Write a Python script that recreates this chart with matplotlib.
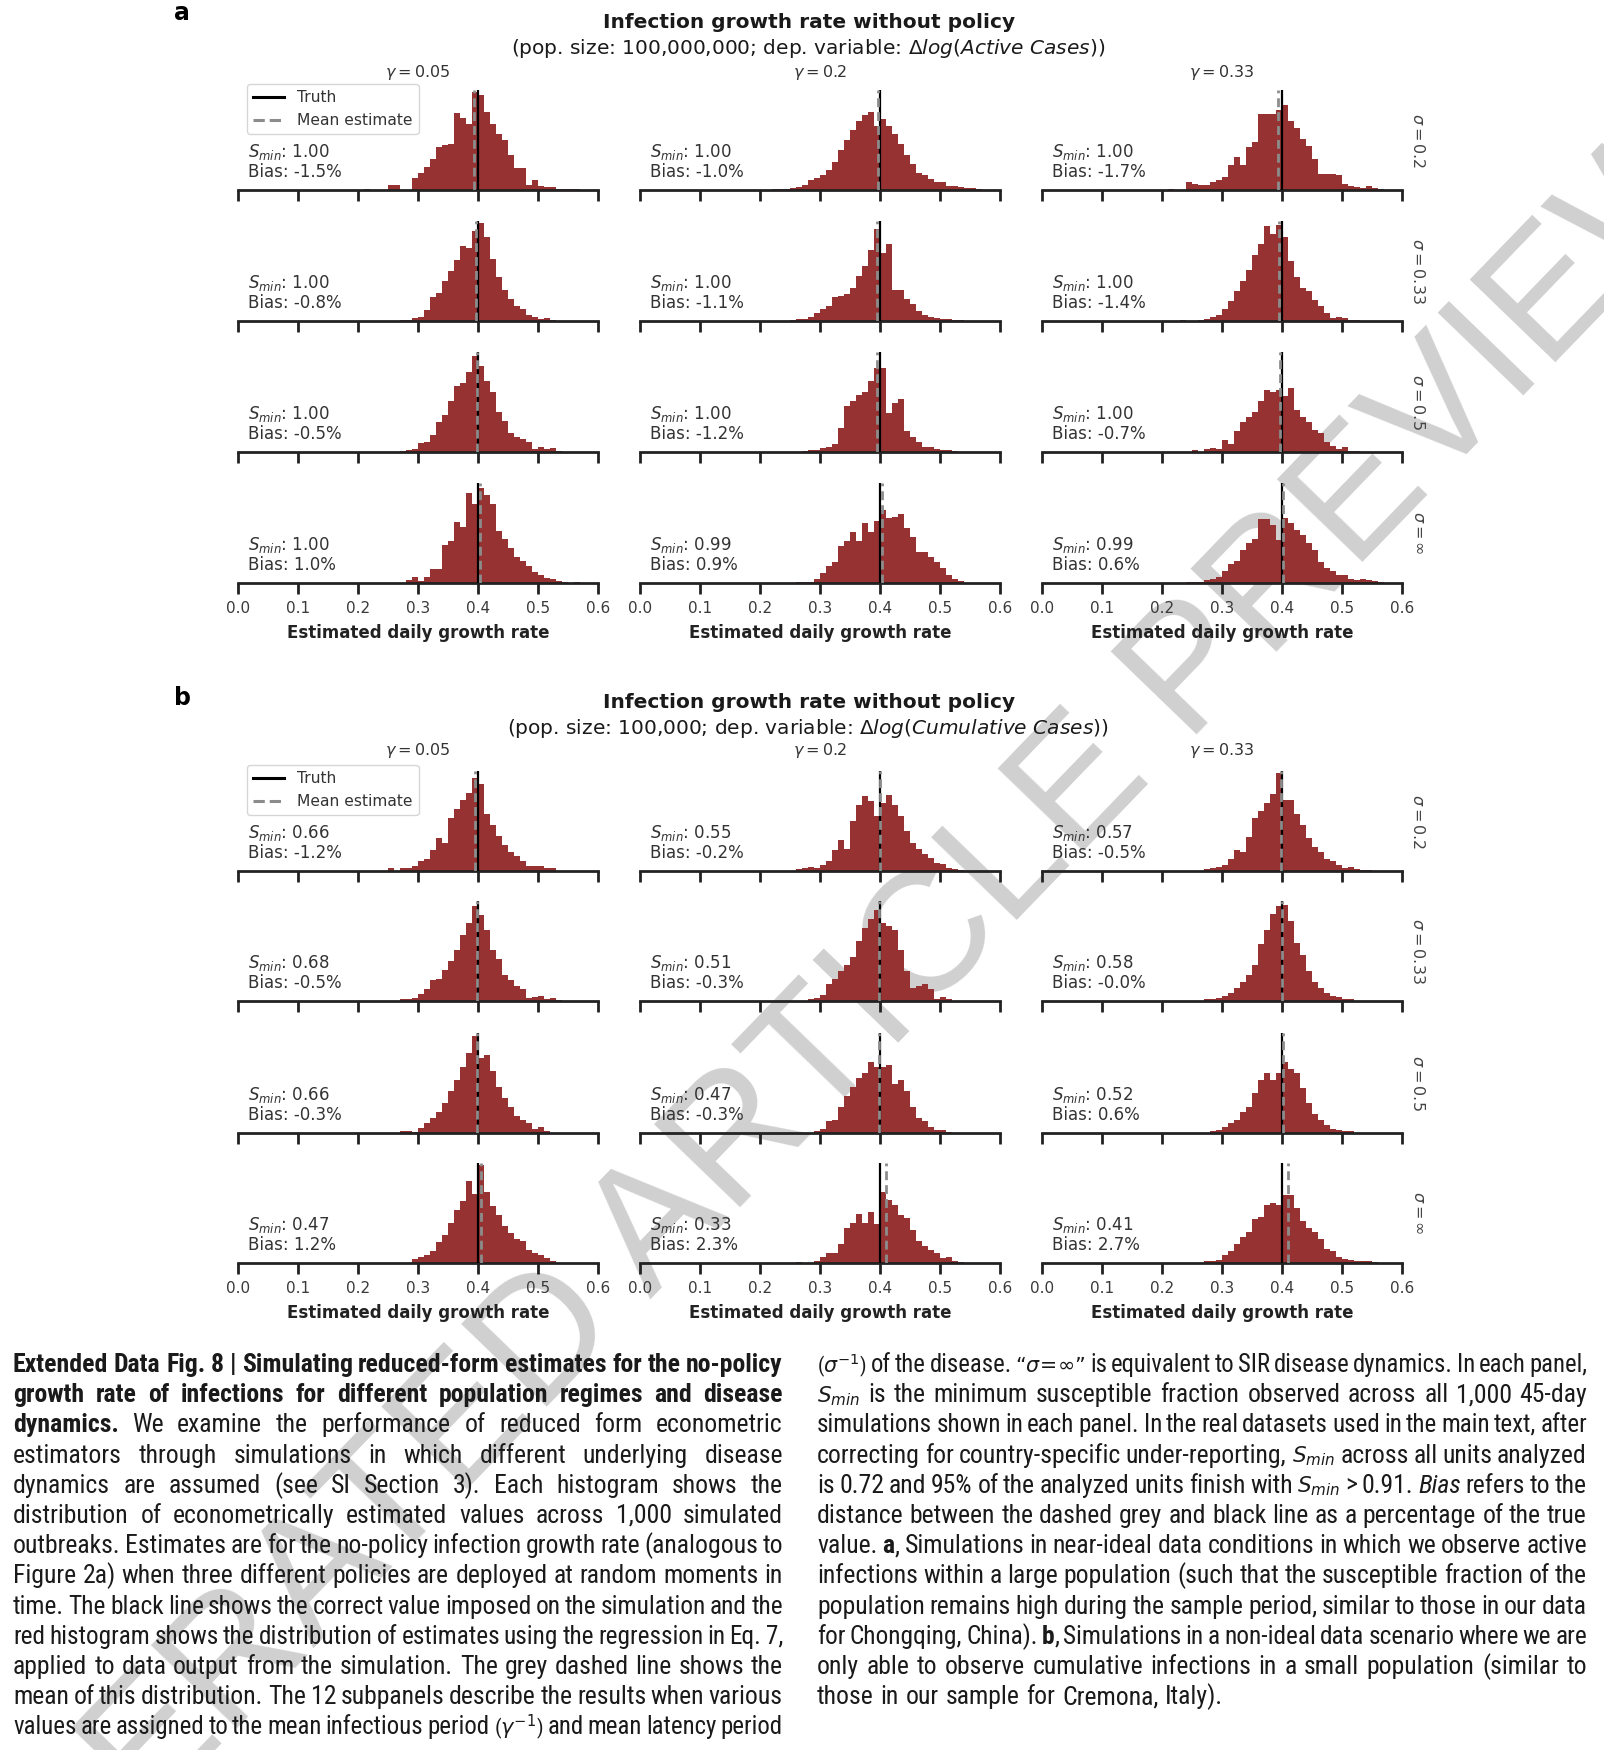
import re
import numpy as np
import matplotlib
matplotlib.use('Agg')
import matplotlib.pyplot as plt
from matplotlib.lines import Line2D

plt.rcParams['font.family'] = 'DejaVu Sans'
plt.rcParams['mathtext.fontset'] = 'dejavusans'

# ---- data -----------------------------------------------------------------
TRUTH = 0.4
BIN_EDGES = np.round(np.arange(0.20, 0.605, 0.01), 2)   # 40 bins of 0.01
XTICKS = [0.0, 0.1, 0.2, 0.3, 0.4, 0.5, 0.6]
GAMMAS = ['0.05', '0.2', '0.33']
SIGMAS = [r'0.2', r'0.33', r'0.5', r'\infty']

# bar heights (percent of panel height), first bin starts at 0.20
# part a: pop. 100,000,000, active cases
A11 = [0, 1, 0, 0, 0, 5, 5, 0, 0, 12, 17, 23, 31, 43, 45, 46, 77, 72, 66, 98, 95, 78, 66, 56, 50, 35, 22, 22, 5, 10, 4, 3, 3, 1.5, 1.5, 1, 1]
A12 = [0, 0, 1, 1, 1, 2, 3, 5, 10, 12, 15, 20, 28, 40, 50, 60, 69, 75, 78, 64, 71, 64, 56, 46, 35, 26, 17, 15, 11, 8, 8, 4, 4, 3, 2, 2, 1]
A13 = [0, 1, 0, 0, 8, 6, 5, 5, 8, 10, 13, 25, 33, 25, 43, 48, 76, 76, 76, 80, 85, 69, 62, 51, 44, 31, 16, 16, 16, 15, 6, 4, 3, 2, 4, 2, 1]
A21 = [0, 0, 0, 0, 0, 0, 0, 1, 1, 3, 4, 11, 24, 28, 40, 50, 61, 75, 73, 90, 98, 84, 62, 44, 31, 22, 15, 12, 6, 4, 2, 3, 1]
A22 = [0, 0, 0, 0, 0, 1, 2, 2, 4, 8, 12, 15, 24, 25, 27, 33, 45, 55, 71, 92, 68, 77, 31, 31, 22, 17, 10, 6, 4, 3, 2, 2, 1, 1]
A23 = [0, 0, 0, 1, 0, 0, 1, 2, 4, 6, 12, 20, 30, 40, 51, 66, 77, 95, 87, 96, 84, 60, 44, 33, 30, 21, 15, 8, 3, 4, 3, 1, 1]
A31 = [0, 0, 0, 0, 0, 0, 0, 1, 2, 3, 9, 10, 17, 30, 37, 51, 66, 69, 80, 96, 86, 71, 60, 40, 31, 19, 15, 13, 10, 3, 5, 3, 4, 1]
A32 = [0, 0, 0, 0, 0, 0, 0, 1, 2, 2, 4, 5, 8, 24, 46, 51, 57, 60, 71, 84, 84, 39, 49, 53, 21, 15, 10, 5, 5, 3, 2, 2, 1]
A33 = [0, 0, 0, 0, 0, 2, 0, 3, 4, 3, 12, 8, 21, 30, 35, 40, 51, 62, 60, 62, 56, 64, 42, 35, 30, 22, 19, 10, 6, 3, 5, 1, 1]
A41 = [0, 0, 0, 0, 0, 0, 0, 0, 3, 6, 2, 6, 14, 14, 38, 42, 61, 56, 90, 79, 95, 88, 79, 52, 44, 35, 26, 22, 17, 11, 8, 5, 4, 2, 1, 0, 1]
A42 = [0, 0, 0, 0, 0, 0, 1, 1, 1, 4, 10, 17, 21, 37, 42, 51, 42, 60, 51, 62, 73, 65, 66, 69, 55, 46, 31, 31, 26, 21, 15, 8, 4, 2]
A43 = [0, 0, 0, 0, 1, 1, 1, 3, 4, 6, 12, 19, 22, 33, 40, 44, 64, 64, 58, 43, 65, 60, 53, 48, 40, 33, 21, 15, 12, 8, 8, 4, 3, 4, 3, 2, 1]
# part b: pop. 100,000, cumulative cases
B11 = [0, 0, 0, 0, 0, 3, 0, 3, 3, 5, 10, 12, 21, 33, 28, 53, 62, 71, 78, 93, 87, 57, 46, 35, 26, 19, 15, 10, 5, 5, 5, 3, 3]
B12 = [0, 0, 0, 0, 0, 0, 2, 3, 4, 3, 6, 10, 21, 31, 22, 50, 66, 75, 70, 55, 68, 76, 66, 55, 40, 28, 22, 17, 13, 8, 7, 3, 2, 1]
B13 = [0, 0, 0, 0, 0, 0, 0, 2, 3, 4, 6, 12, 21, 19, 34, 53, 60, 68, 77, 98, 71, 71, 57, 46, 33, 24, 19, 12, 10, 6, 3, 4, 2, 1, 1]
B21 = [0, 0, 0, 0, 0, 0, 0, 2, 2, 3, 7, 12, 21, 22, 31, 40, 51, 66, 78, 95, 86, 71, 51, 42, 26, 21, 15, 12, 3, 4, 5, 2, 3, 1]
B22 = [0, 0, 0, 0, 0, 0, 0, 0, 2, 3, 6, 17, 22, 30, 36, 44, 60, 73, 82, 91, 78, 75, 71, 51, 30, 13, 15, 17, 12, 2, 4, 2]
B23 = [0, 0, 0, 0, 0, 0, 0, 2, 2, 3, 5, 8, 13, 19, 26, 36, 57, 71, 87, 95, 96, 80, 58, 46, 30, 19, 13, 8, 5, 4, 2, 2]
B31 = [0, 0, 0, 0, 0, 0, 0, 2, 2, 1, 5, 10, 15, 21, 30, 42, 53, 66, 80, 97, 75, 78, 62, 46, 35, 26, 17, 13, 10, 4, 6, 2]
B32 = [0, 0, 0, 0, 0, 0, 0, 0, 0, 2, 4, 12, 13, 26, 37, 46, 55, 60, 71, 66, 66, 68, 49, 53, 42, 26, 15, 12, 6, 3, 3, 1]
B33 = [0, 0, 0, 0, 0, 0, 0, 0, 2, 3, 6, 10, 13, 21, 26, 40, 53, 60, 53, 60, 71, 64, 60, 45, 30, 19, 13, 8, 4, 3, 2, 2]
B41 = [0, 0, 0, 0, 0, 0, 0, 0, 0, 4, 6, 8, 12, 21, 28, 40, 53, 62, 82, 69, 98, 71, 57, 48, 37, 30, 24, 22, 13, 10, 8, 5, 2]
B42 = [0, 0, 0, 0, 0, 0, 1, 0, 0, 2, 6, 10, 10, 19, 35, 40, 49, 40, 51, 39, 71, 63, 58, 48, 45, 33, 22, 17, 13, 10, 5, 6, 2, 1]
B43 = [0, 0, 0, 0, 0, 0, 0, 2, 2, 3, 8, 12, 19, 26, 31, 44, 46, 58, 60, 58, 68, 68, 55, 42, 35, 31, 24, 14, 12, 6, 4, 3, 2, 2, 2, 1]

SMIN_A = [[1.00, 1.00, 1.00], [1.00, 1.00, 1.00], [1.00, 1.00, 1.00], [1.00, 0.99, 0.99]]
BIAS_A = [[-1.5, -1.0, -1.7], [-0.8, -1.1, -1.4], [-0.5, -1.2, -0.7], [1.0, 0.9, 0.6]]
SMIN_B = [[0.66, 0.55, 0.57], [0.68, 0.51, 0.58], [0.66, 0.47, 0.52], [0.47, 0.33, 0.41]]
BIAS_B = [[-1.2, -0.2, -0.5], [-0.5, -0.3, -0.0], [-0.3, -0.3, 0.6], [1.2, 2.3, 2.7]]

HIST_A = [[A11, A12, A13], [A21, A22, A23], [A31, A32, A33], [A41, A42, A43]]
HIST_B = [[B11, B12, B13], [B21, B22, B23], [B31, B32, B33], [B41, B42, B43]]

LEFT_CAPTION = [
    "**Extended Data Fig. 8 | Simulating reduced-form estimates for the no-policy**",
    "**growth rate of infections for different population regimes and disease**",
    "**dynamics.** We examine the performance of reduced form econometric",
    "estimators through simulations in which different underlying disease",
    "dynamics are assumed (see SI Section 3). Each histogram shows the",
    "distribution of econometrically estimated values across 1,000 simulated",
    "outbreaks. Estimates are for the no-policy infection growth rate (analogous to",
    "Figure 2a) when three different policies are deployed at random moments in",
    "time. The black line shows the correct value imposed on the simulation and the",
    "red histogram shows the distribution of estimates using the regression in Eq. 7,",
    "applied to data output from the simulation. The grey dashed line shows the",
    "mean of this distribution. The 12 subpanels describe the results when various",
    r"values are assigned to the mean infectious period ($\gamma^{-1}$) and mean latency period",
]
RIGHT_CAPTION = [
    r"($\sigma^{-1}$) of the disease. “$\sigma\!=\!\infty$” is equivalent to SIR disease dynamics. In each panel,",
    r"$S_{min}$ is the minimum susceptible fraction observed across all 1,000 45-day",
    "simulations shown in each panel. In the real datasets used in the main text, after",
    r"correcting for country-specific under-reporting, $S_{min}$ across all units analyzed",
    r"is 0.72 and 95% of the analyzed units finish with $S_{min}$ > 0.91. __Bias__ refers to the",
    "distance between the dashed grey and black line as a percentage of the true",
    "value. **a**, Simulations in near-ideal data conditions in which we observe active",
    "infections within a large population (such that the susceptible fraction of the",
    "population remains high during the sample period, similar to those in our data",
    "for Chongqing, China). **b**, Simulations in a non-ideal data scenario where we are",
    "only able to observe cumulative infections in a small population (similar to",
    "those in our sample for Cremona, Italy).",
]

# ---- layout (pixels of the 1604 x 1750 canvas) -----------------------------
W, H = 1604, 1750
HIST_COLOR = '#973232'
COL_LEFT = [238, 640, 1042]
AX_W, AX_H = 360, 100

PARTS = [
    dict(letter='a', letter_y=13, title_y=22, sub_y=49, gamma_y=72,
         sub=r"(pop. size: 100,000,000; dep. variable: $\Delta log(Active\ Cases)$)",
         base=[190, 321, 452, 583], hist=HIST_A, smin=SMIN_A, bias=BIAS_A),
    dict(letter='b', letter_y=698, title_y=703, sub_y=729, gamma_y=751,
         sub=r"(pop. size: 100,000; dep. variable: $\Delta log(Cumulative\ Cases)$)",
         base=[871, 1001, 1133, 1263], hist=HIST_B, smin=SMIN_B, bias=BIAS_B),
]


def fx(x):
    return x / W


def fy(y):
    return 1 - y / H


fig = plt.figure(figsize=(W / 100, H / 100), dpi=100)

# watermark, behind everything
fig.text(fx(712), fy(1172), 'ACCELERATED ARTICLE PREVIEW', rotation=46,
         rotation_mode='anchor', ha='center', va='center', fontsize=124,
         color='#d0d0d0', family=['Liberation Sans', 'DejaVu Sans'], zorder=-5)

for part in PARTS:
    fig.text(fx(182), fy(part['letter_y']), part['letter'], fontsize=17,
             fontweight='bold', ha='center', va='center')
    fig.text(fx(809), fy(part['title_y']), 'Infection growth rate without policy',
             fontsize=14.5, fontweight='bold', ha='center', va='center', color='#1a1a1a')
    fig.text(fx(808), fy(part['sub_y']), part['sub'], fontsize=14.5,
             ha='center', va='center', color='#1a1a1a')
    for c in range(3):
        fig.text(fx(COL_LEFT[c] + AX_W / 2), fy(part['gamma_y']),
                 r'$\gamma = %s$' % GAMMAS[c], fontsize=11.5, ha='center',
                 va='center', color='#333333')

    for r in range(4):
        for c in range(3):
            base = part['base'][r]
            ax = fig.add_axes([fx(COL_LEFT[c]), fy(base), AX_W / W, AX_H / H])
            ax.patch.set_alpha(0)
            counts = part['hist'][r][c]
            counts = counts + [0] * (len(BIN_EDGES) - 1 - len(counts))
            ax.hist(BIN_EDGES[:-1] + 0.005, bins=BIN_EDGES, weights=counts,
                    color=HIST_COLOR)
            bias = part['bias'][r][c]
            ax.axvline(TRUTH, color='black', lw=1.6, zorder=3)
            ax.axvline(TRUTH * (1 + bias / 100), color='#8c8c8c', lw=2.0,
                       ls=(0, (3.2, 1.8)), zorder=4)
            ax.set_xlim(0, 0.6)
            ax.set_ylim(0, 100)
            ax.set_yticks([])
            ax.set_xticks(XTICKS)
            for s in ('left', 'right', 'top'):
                ax.spines[s].set_visible(False)
            ax.spines['bottom'].set_linewidth(2.0)
            ax.spines['bottom'].set_color('#222222')
            ax.tick_params(axis='x', length=8, width=2.0, color='#222222',
                           labelsize=11, labelcolor='#3a3a3a', pad=5,
                           labelbottom=(r == 3))
            if r == 3:
                ax.set_xlabel('Estimated daily growth rate', fontsize=12,
                              fontweight='bold', color='#222222', labelpad=6)
            ax.text(0.028, 0.09, r'$S_{min}$: %.2f' % part['smin'][r][c] + '\n'
                    + 'Bias: %.1f%%' % bias, transform=ax.transAxes,
                    fontsize=12, color='#333333', va='bottom', ha='left',
                    linespacing=1.1)
            if c == 2:
                ax.text(1.045, 0.5, r'$\sigma = %s$' % SIGMAS[r],
                        transform=ax.transAxes, rotation=270, fontsize=11.5,
                        color='#444444', ha='center', va='center')
            if r == 0 and c == 0:
                handles = [Line2D([], [], color='black', lw=2.2),
                           Line2D([], [], color='#8c8c8c', lw=2.2, ls='--')]
                leg = ax.legend(handles, ['Truth', 'Mean estimate'],
                                loc='upper left', bbox_to_anchor=(0.025, 1.06),
                                borderaxespad=0, fontsize=11.2, frameon=True,
                                fancybox=True, handlelength=2.0,
                                labelcolor='#333333')
                leg.get_frame().set_edgecolor('#cccccc')


# ---- caption: two justified columns with bold / italic runs -----------------
CAP_FONT = ['Roboto Condensed', 'Lato', 'DejaVu Sans']
CAP_BASE = 15.0
MATH_SHRINK = 0.84      # DejaVu mathtext runs wider than the caption face
COL_W = 770
LINE_Y0 = 1372          # baseline of first line
LINE_STEP = 30.2


def parse_runs(line):
    runs, bold, ital = [], False, False
    for tok in re.split(r'(\*\*|__)', line):
        if tok == '**':
            bold = not bold
        elif tok == '__':
            ital = not ital
        elif tok:
            runs.append((tok, bold, ital))
    return runs


def split_words(runs):
    words = [[]]
    for text, b, it in runs:
        for k, p in enumerate(text.split(' ')):
            if k:
                words.append([])
            if p:
                words[-1].append((p, b, it))
    return [w for w in words if w]


lines = []
for col_lines, x0 in ((LEFT_CAPTION, 13), (RIGHT_CAPTION, 817)):
    for i, line in enumerate(col_lines):
        y = LINE_Y0 + i * LINE_STEP
        words = []
        for w in split_words(parse_runs(line)):
            pieces = []
            for s, b, it in w:
                size = CAP_BASE * (MATH_SHRINK if '$' in s else 1.0)
                t = fig.text(0, fy(y), s, fontsize=size, family=CAP_FONT,
                             fontweight='bold' if b else 'normal',
                             fontstyle='italic' if it else 'normal',
                             color='#1a1a1a', va='baseline', ha='left')
                pieces.append((t, size))
            words.append(pieces)
        justify = not (col_lines is RIGHT_CAPTION and i == len(col_lines) - 1)
        lines.append((words, x0, justify))

renderer = fig.canvas.get_renderer()
em = CAP_BASE * 100 / 72
widths, fits = [], []
for words, x0, justify in lines:
    ww = [[t.get_window_extent(renderer).width for t, _ in w] for w in words]
    widths.append(ww)
    natural = sum(sum(x) for x in ww) + 0.16 * em * (len(words) - 1)
    fits.append(COL_W / natural if justify else 99)
# one common size for most lines; the few longest lines shrink a little
scale = min(sorted(fits)[len(fits) // 4], 1.25)

for (words, x0, justify), ww, fit in zip(lines, widths, fits):
    s = min(scale, fit)
    total = s * sum(sum(x) for x in ww)
    if justify and len(words) > 1:
        gap = (COL_W - total) / (len(words) - 1)
    else:
        gap = 0.26 * em * s
    x = x0
    for w, wl in zip(words, ww):
        for (t, size), wd in zip(w, wl):
            t.set_fontsize(size * s)
            t.set_x(fx(x))
            x += wd * s
        x += gap

fig.savefig('out.png', dpi=100)
